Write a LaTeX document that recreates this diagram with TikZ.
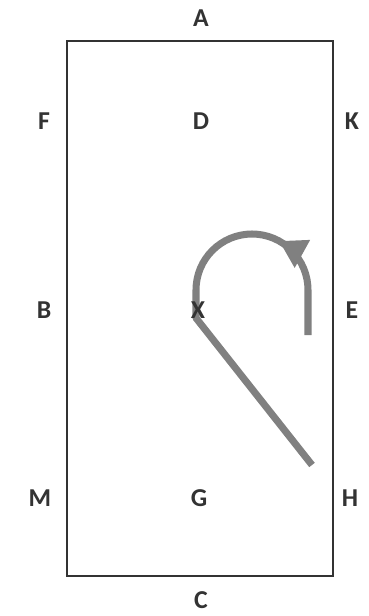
\documentclass[tikz,border=0pt]{standalone}
\usepackage{fontspec}
\setmainfont{Carlito}
\usetikzlibrary{arrows.meta,decorations.markings}
\definecolor{fieldgray}{RGB}{51,51,51}
\definecolor{pathgray}{RGB}{128,128,128}

\begin{document}
\begin{tikzpicture}[x=0.03cm, y=-0.03cm,
  lbl/.style={font=\fontsize{22}{26}\selectfont\bfseries, text=fieldgray, inner sep=0pt},
  field/.style={draw=fieldgray, line width=2.5pt},
  route/.style={draw=pathgray, line width=6pt, line join=round,
    postaction={decorate, decoration={markings,
      mark=at position 0.24 with {\arrow{Triangle[length=8mm, width=9mm]}}}}}]
\useasboundingbox (0,0) rectangle (369,616);
\draw[field] (67,41) rectangle (333,576);
% labels round and inside the field
\node[lbl] (A) at (201,18) {A};
\node[lbl] (F) at (44,121) {F};
\node[lbl] (D) at (201,121) {D};
\node[lbl] (K) at (352,121) {K};
\node[lbl] (B) at (44,310) {B};
\node[lbl] (E) at (352,310) {E};
\node[lbl] (M) at (40,498) {M};
\node[lbl] (G) at (199,498) {G};
\node[lbl] (H) at (350,498) {H};
\node[lbl] (C) at (201,600) {C};
% path of the runner
\coordinate (start) at (308,335);
\coordinate (turn) at (196,318);
\coordinate (finish) at (312,465);
\draw[route, color=pathgray] (start) -- (308,290) arc[start angle=0, end angle=-180, radius=56] -- (turn) -- (finish);
\node[lbl] (X) at (198,310) {X};
\end{tikzpicture}
\end{document}
